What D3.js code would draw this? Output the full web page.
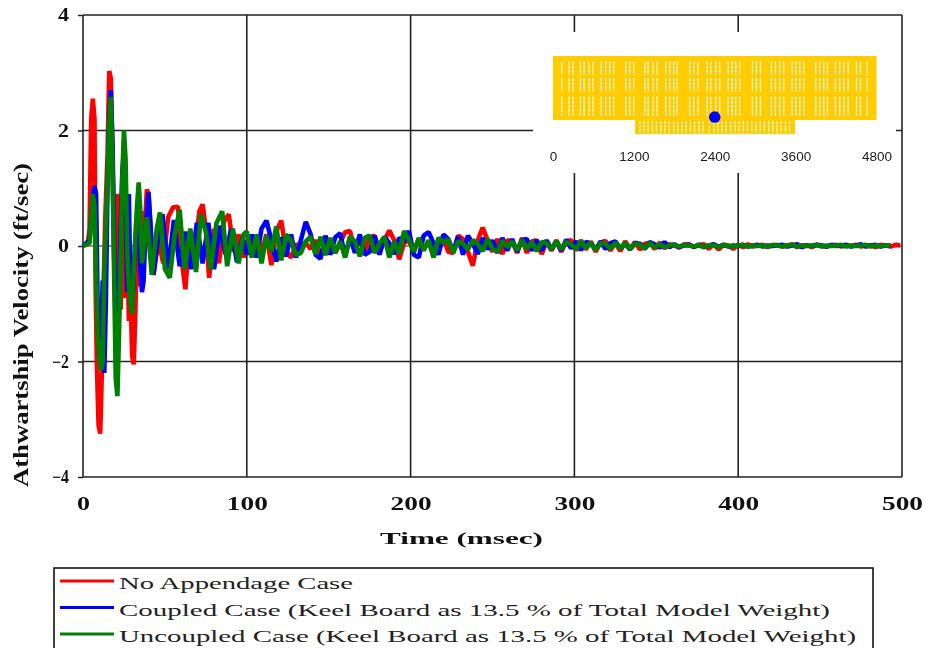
<!DOCTYPE html>
<html><head><meta charset="utf-8">
<script src="https://cdnjs.cloudflare.com/ajax/libs/d3/7.8.5/d3.min.js"></script>
<style>html,body{margin:0;padding:0;background:#fff;overflow:hidden}svg{display:block;filter:blur(.4px)}</style>
</head><body><svg id="c" width="926" height="648"></svg>
<script>
const xTicks=[0,100,200,300,400,500];
const yTicks=[-4,-2,0,2,4];
const seriesNames=["No Appendage Case","Coupled Case (Keel Board as 13.5 % of Total Model Weight)","Uncoupled Case (Keel Board as 13.5 % of Total Model Weight)"];
const seriesColors=["#ff0000","#0000ff","#008000"];

const redEarlyT=[0,3,4,5,6,7,7.7,8.5,9.5,10.5,11.5,12.5,13.5,15,16,17,18,19,20,21,22,23,24,25,26,27,28,29,30,31,32,33,34,35,36,37,38,39,40,43,46,49,52,55,58,60.5,62.5,65,68,71,73,75,77,80,83,86,89,92,95,98];
const redEarlyV=[0,.05,.3,2.2,2.55,2.2,-.7,-2.1,-3.1,-3.25,-2.2,-.8,.4,1.6,3.03,2.9,1.5,-.2,-1,.9,.5,-1.1,.2,.6,-.9,.1,-1.3,-.8,-1.9,-2.05,-1.1,.1,.5,-.7,.3,.6,.45,.98,.9,-.5,.1,-.3,.5,.67,.68,-.3,-.75,.2,-.2,.6,.72,.3,-.55,.3,-.3,.42,.55,-.1,.2,-.2];
const blueEarlyT=[0,4,5,6,7,8,9,10,11,12,13,14,15,16,17,18,19,20,21,22,23,24,25,26,27,28,29,30,32,34,35,36,37,38,40,43,46.5,48.5,52,55.5,59,62.5,66,69.5,73,76.5,80,83.5,87,90.5,94,97.5];
const blueEarlyV=[0,.1,.5,.8,1.04,.9,-1.2,-2,-1.8,-.6,-2.2,-.9,1.1,2.2,2.7,1.8,.2,-1.6,-2.25,-1,.3,1.3,1.62,.7,-.8,.9,-.9,-1.1,.1,.6,-.4,-.8,-.6,.2,.93,-.5,.3,.55,-.4,.45,-.35,.25,-.4,.4,-.3,.4,-.4,.35,-.15,.3,-.28,.15];
const greenEarlyT=[0,4,5,6,7,8,9,10,11,12,13,14,15,16,17,18,19,20,21,22,23,24,25,26,27,28,29,30,31,32,33,34,35,36,39,42,45,47,50,53,56,59,62,65.5,69,72,75,78,81.5,85,88,91.5,95,98];
const greenEarlyV=[0,.05,.5,.9,.7,-.5,-1.5,-2,-2.15,-2,-.4,.3,1.2,2.1,2.58,1.4,-.5,-2.3,-2.6,-1.5,-.2,1.2,2,1.5,-.1,-.7,-1,-1.18,-.4,.2,.7,1.1,.6,-.3,.5,-.5,.3,.58,-.4,-.55,.2,.63,-.4,.3,-.45,.55,.25,-.4,.4,.6,-.35,.3,-.3,.2];

const tailT=[100,103,106,109,112,115,118,121,124,127,130,133,136,139,142,145,148,151,154,157,160,163,166,169,172,175,178,181,184,187,190,193,196,199,202,205,208,211,214,217,220,223,226,229,232,235,238,241,244,247,250,253,256,259,262,265,268,271,274,277,280,283,286,289,292,295,298,301,304,307,310,313,316,319,322,325,328,331,334,337,340,343,346,349,352,355,358,361,364,367,370,373,376,379,382,385,388,391,394,397,400,403,406,409,412,415,418,421,424,427,430,433,436,439,442,445,448,451,454,457,460,463,466,469,472,475,478,481,484,487,490,493,496,499];
const redTail=[.1,-.15,.18,-.1,.2,-.33,.25,.44,-.1,-.2,.02,.02,.05,-.05,.1,-.18,0,.12,-.12,.05,.24,.26,-.08,.1,-.1,.15,.18,-.12,.1,.27,.1,-.23,.05,.1,-.1,.12,-.05,.08,-.18,.1,.14,-.1,-.12,.18,.12,-.1,-.34,.1,.32,.1,-.1,.12,-.14,.1,.08,-.12,.14,-.12,.08,.1,-.14,.08,-.08,.1,-.1,.08,.1,-.08,.1,-.06,.08,-.1,.06,.09,-.08,.06,-.09,.08,-.05,.07,-.06,.04,.05,-.05,.06,-.04,.03,.01,-.03,.03,.03,-.02,.02,.03,-.05,.03,-.06,.02,.01,-.05,.02,-.02,.03,-.01,.01,.02,-.02,.01,.02,-.01,.01,.03,-.02,.01,.01,-.02,.02,0,-.01,.01,.02,-.01,.01,0,.02,-.01,.01,.01,-.02,.02,.01,-.01,.02,.01];
const blueTail=[-.15,.2,-.2,.3,.44,.1,-.27,.15,-.18,.2,-.2,.1,.42,.2,-.15,-.22,.18,-.15,.15,.22,-.18,.15,-.12,.2,-.15,-.1,.18,-.15,.16,.05,-.14,.14,.08,.26,-.15,-.2,.18,.24,.05,-.15,.2,.12,-.1,.16,-.15,.18,.04,-.14,.14,-.06,.1,-.12,.14,-.08,.12,-.1,.1,.12,-.08,.1,-.08,.1,-.06,.08,-.08,.11,-.04,.08,-.07,.07,.04,-.06,.08,-.05,.05,.08,-.04,.04,-.06,.05,.04,-.05,.07,.03,-.03,.07,-.02,.03,-.02,.01,.02,-.01,.02,-.02,.01,.03,-.01,.02,-.01,.01,0,.02,-.01,.01,.02,-.01,.01,0,.01,.02,-.01,.01,.03,-.02,.01,0,.02,.01,-.01,.02,0,.01,.02,-.01,.01,.03,-.01,.01,.02,-.01,.01,.01];
const greenTail=[.25,-.2,.2,-.3,.18,-.1,.34,-.25,.2,.1,-.16,-.12,.08,.16,-.14,.16,-.16,.14,-.12,.08,-.2,.16,.08,-.18,.14,.18,-.12,.04,.16,-.2,.08,-.14,.26,.1,-.1,.14,-.08,.1,-.2,.14,.06,.12,-.12,.08,.04,-.06,.1,.04,-.09,.12,-.05,-.1,.09,-.02,.08,-.08,.1,-.05,.07,-.09,.07,.05,-.06,.09,-.06,.07,.03,-.06,.09,-.04,.06,-.07,.05,.04,-.05,.06,-.04,.05,-.05,.04,.02,-.04,.05,-.02,.03,-.02,.01,.02,-.01,.02,.01,-.01,.02,-.02,.01,.01,-.02,.02,0,-.01,.01,.02,-.01,.01,0,.01,-.01,.02,.01,-.01,.01,.02,-.01,.01,0,.01,.02,-.01,.01,0,.01,.02,-.01,.01,0,.01,.02,-.01,.01,0,.01,.01];

const insetTicks=[0,1200,2400,3600,4800];
const hullColumns=[129,238,297,406,460,534,594,717,782,841,900,1079,1138,1197,1361,1410,1484,1544,1672,1732,1791,1841,2029,2088,2152,2286,2340,2415,2474,2598,2657,2711,2771,2959,3018,3078,3241,3300,3365,3424,3548,3602,3662,3721,3899,3958,4018,4072,4191,4255,4315,4379,4503,4562,4661];
const hullRows=[[875,1073],[630,828],[267,554]];
const keelColumns=[1290,1350,1410,1475,1535,1600,1660,1725,1790,1850,1915,1975,2040,2100,2165,2225,2320,2385,2445,2510,2570,2635,2700,2760,2825,2885,2950,3010,3075,3135,3200,3260,3325,3385,3450,3510];
const keelRow=[15,185];
const hullSpan=[0,4800,208,1158];
const keelSpan=[1218,3590,0,208];
const shotPoint=[2400,252];

const svg=d3.select("#c");
const x=d3.scaleLinear().domain([0,500]).range([83,902]);
const y=d3.scaleLinear().domain([-4,4]).range([477,15]);
const serif='"Liberation Serif"';

const yAxis=d3.axisLeft(y).tickValues(yTicks).tickSize(5).tickPadding(9).tickFormat(d3.format("d"));
const xAxis=d3.axisBottom(x).tickValues(xTicks).tickSize(0).tickPadding(20).tickFormat(d3.format("d"));
const gy=svg.append("g").attr("transform","translate(83,0)").call(yAxis);
const gx=svg.append("g").attr("transform","translate(0,477)").call(xAxis);
[gy,gx].forEach(g=>{g.select(".domain").remove();
  g.selectAll("text").attr("font-family",serif).attr("font-weight","bold").attr("font-size",18).attr("fill","#111");
  g.selectAll("line").attr("stroke","#222").attr("stroke-width",1.5);});
gx.selectAll("text").attr("lengthAdjust","spacingAndGlyphs").attr("textLength",d=>d===0?13:41);
gy.selectAll("text").attr("lengthAdjust","spacingAndGlyphs").attr("textLength",d=>d<0?17:11);

const grid=svg.append("g").attr("stroke","#222").attr("stroke-width",1.6);
grid.selectAll("line.h").data(yTicks).join("line").attr("x1",x(0)).attr("x2",x(500)).attr("y1",d=>y(d)).attr("y2",d=>y(d)).attr("stroke-width",d=>d===0?1.2:1.6);
grid.selectAll("line.v").data(xTicks).join("line").attr("y1",y(4)).attr("y2",y(-4)).attr("x1",d=>x(d)).attr("x2",d=>x(d));

const line=d3.line().x(d=>x(d[0])).y(d=>y(d[1]));
const curves=[
  [redEarlyT.concat(tailT),redEarlyV.concat(redTail)],
  [blueEarlyT.concat(tailT),blueEarlyV.concat(blueTail)],
  [greenEarlyT.concat(tailT),greenEarlyV.concat(greenTail)]];
curves.forEach((c,i)=>{
  svg.append("path").datum(d3.zip(c[0],c[1])).attr("d",line).attr("fill","none")
    .attr("stroke",seriesColors[i]).attr("stroke-width",4.6).attr("stroke-linejoin","bevel");
});

// inset
const ix=d3.scaleLinear().domain([0,4800]).range([553,876.5]);
const iy=d3.scaleLinear().domain([0,1158]).range([134,56]);
const inset=svg.append("g");
inset.append("rect").attr("x",533).attr("y",32).attr("width",363).attr("height",141).attr("fill","#fff");
inset.selectAll("rect.p").data([hullSpan,keelSpan]).join("rect")
  .attr("x",d=>ix(d[0])).attr("width",d=>ix(d[1])-ix(d[0]))
  .attr("y",d=>iy(d[3])).attr("height",d=>iy(d[2])-iy(d[3])).attr("fill","#ffcc00");
hullRows.forEach(r=>{
  inset.selectAll(null).data(hullColumns).join("line")
    .attr("x1",d=>ix(d)).attr("x2",d=>ix(d)).attr("y1",iy(r[1])).attr("y2",iy(r[0]))
    .attr("stroke","#fff").attr("stroke-width",1.3).attr("stroke-dasharray","3 1");
});
inset.selectAll(null).data(keelColumns).join("line")
  .attr("x1",d=>ix(d)).attr("x2",d=>ix(d)).attr("y1",iy(keelRow[1])).attr("y2",iy(keelRow[0]))
  .attr("stroke","#fff").attr("stroke-width",1.3).attr("stroke-dasharray","2.5 1");
inset.append("circle").attr("cx",ix(shotPoint[0])).attr("cy",iy(shotPoint[1])).attr("r",5.8).attr("fill","#0000ff");
const ia=inset.append("g").attr("transform","translate(0,145)").call(d3.axisBottom(ix).tickValues(insetTicks).tickSize(0).tickPadding(6).tickFormat(d3.format("d")));
ia.select(".domain").remove();
ia.selectAll("text").attr("font-family",'"Liberation Sans"').attr("font-size",13.5).attr("fill","#222");

// titles
svg.append("text").attr("x",461.5).attr("y",544).attr("text-anchor","middle").attr("font-family",serif).attr("font-weight","bold").attr("font-size",17).attr("fill","#111").attr("lengthAdjust","spacingAndGlyphs").attr("textLength",163).text("Time (msec)");
svg.append("text").attr("transform","translate(28,325) rotate(-90)").attr("text-anchor","middle").attr("font-family",serif).attr("font-weight","bold").attr("font-size",20).attr("fill","#111").attr("lengthAdjust","spacingAndGlyphs").attr("textLength",324).text("Athwartship Velocity (ft/sec)");

// legend
svg.append("rect").attr("x",54).attr("y",568).attr("width",819).attr("height",100).attr("fill","#fff").attr("stroke","#111").attr("stroke-width",1.6);
const legY=d3.scalePoint().domain(seriesNames).range([584,637]);
const legW=[234,711,737];
seriesNames.forEach((n,i)=>{
  svg.append("line").attr("x1",60).attr("x2",114).attr("y1",legY(n)-3).attr("y2",legY(n)-3).attr("stroke",seriesColors[i]).attr("stroke-width",3);
  svg.append("text").attr("x",119).attr("y",legY(n)+5).attr("font-family",serif).attr("font-size",16.5).attr("fill","#222").attr("lengthAdjust","spacingAndGlyphs").attr("textLength",legW[i]).text(n);
});
</script></body></html>
